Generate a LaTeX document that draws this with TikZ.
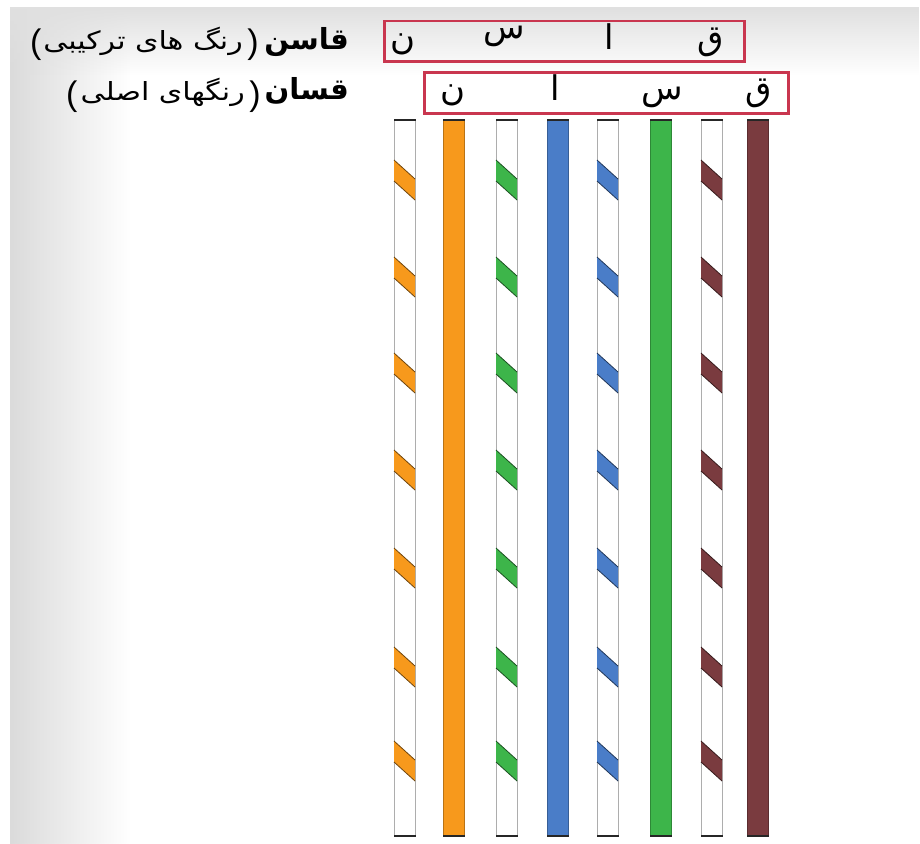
\documentclass[tikz,border=0pt]{standalone}
\usepackage{fontspec}
\newfontfamily\arabicfont[Script=Arabic]{DejaVu Sans}
\newfontfamily\arabicwide[Script=Arabic, FakeStretch=1.2]{DejaVu Sans}
\newfontfamily\parenfont{Liberation Sans}
\TeXXeTstate=1
\usetikzlibrary{fadings}
\definecolor{wor}{HTML}{F7991C}
\definecolor{wbl}{HTML}{4A7DC8}
\definecolor{wgr}{HTML}{3DB54A}
\definecolor{wbr}{HTML}{7A3B3F}
\definecolor{boxred}{HTML}{C9364F}
\tikzfading[name=fadedown, top color=transparent!0, bottom color=transparent!100]
\tikzfading[name=faderight, left color=transparent!0, right color=transparent!100]
\tikzset{
  wirebody/.style={rectangle, inner sep=0pt, minimum width=21pt, minimum height=715pt, anchor=north west, line width=1.2pt},
  whitewire/.style={wirebody, fill=white, draw=black!32},
  solidwire/.style={wirebody, fill=#1, draw=#1!75!black},
  capline/.style={draw=black!85, line width=1.6pt},
  codebox/.style={rectangle, draw=boxred, line width=2.5pt, inner sep=0pt, anchor=north west},
  letter/.style={font=\arabicfont\fontsize{34}{36}\selectfont, inner sep=0pt, anchor=base},
  boldlabel/.style={anchor=base east, inner sep=0pt, font=\arabicfont\fontsize{29}{32}\selectfont\bfseries},
  plainlabel/.style={anchor=base east, inner sep=0pt, font=\arabicwide\fontsize{25}{28}\selectfont},
  paren/.style={inner sep=0pt, font=\parenfont\fontsize{34}{36}\selectfont},
  stripe/.style={fill=#1},
  stripeedge/.style={draw=#1!45!black, line width=0.8pt}
}
\begin{document}
\begin{tikzpicture}[x=1pt,y=-1pt]
\useasboundingbox (0,0) rectangle (920,843);
\fill[white] (0,0) rectangle (920,843);
\fill[black!14, path fading=faderight] (10,7) rectangle (130,843);
\fill[black!12, path fading=fadedown] (10,7) rectangle (920,75);

% labels, row 1
\node[boldlabel] (lab1) at (349,50) {\beginR قاسن\endR};
\node[paren, anchor=base east] (p1r) at (259,53) {)};
\node[plainlabel] (lab1t) at (243,50) {\beginR رنگ های ترکیبی\endR};
\node[paren, anchor=base west] (p1l) at (30,53) {(};
% labels, row 2
\node[boldlabel] (lab2) at (349,99) {\beginR قسان\endR};
\node[paren, anchor=base east] (p2r) at (261,105) {)};
\node[plainlabel] (lab2t) at (245,100) {\beginR رنگهای اصلی\endR};
\node[paren, anchor=base west] (p2l) at (66,105) {(};

% boxes
\node[codebox, minimum width=360pt, minimum height=40pt] (box1) at (383,20) {};
\node[codebox, minimum width=364pt, minimum height=41pt] (box2) at (423,71) {};

% letters
\node[letter] (t1) at (403,50) {ن};
\node[letter] (t2) at (504,38) {س};
\node[letter] (t3) at (609,49) {ا};
\node[letter] (t4) at (711,49) {ق};
\node[letter] (b1) at (453,100) {ن};
\node[letter] (b2) at (555,100) {ا};
\node[letter] (b3) at (662,99) {س};
\node[letter] (b4) at (759,100) {ق};

% wires
\node[whitewire] (w1) at (394,120) {};
\node[solidwire=wor] (w2) at (443,120) {};
\node[whitewire] (w3) at (496,120) {};
\node[solidwire=wbl] (w4) at (547,120) {};
\node[whitewire] (w5) at (597,120) {};
\node[solidwire=wgr] (w6) at (650,120) {};
\node[whitewire] (w7) at (701,120) {};
\node[solidwire=wbr] (w8) at (747,120) {};

\foreach \n in {1,...,8}{
  \draw[capline] (w\n.north west) -- (w\n.north east);
  \draw[capline] (w\n.south west) -- (w\n.south east);
}

\foreach \x/\c in {394/wor,496/wgr,597/wbl,701/wbr}{
  \foreach \y in {160,257,353,450,548,647,741}{
    \fill[stripe=\c] (\x,\y) -- (\x+21,\y+19) -- (\x+21,\y+40) -- (\x,\y+21) -- cycle;
    \draw[stripeedge=\c] (\x,\y) -- (\x+21,\y+19) (\x,\y+21) -- (\x+21,\y+40);
  }
}
\end{tikzpicture}
\end{document}
